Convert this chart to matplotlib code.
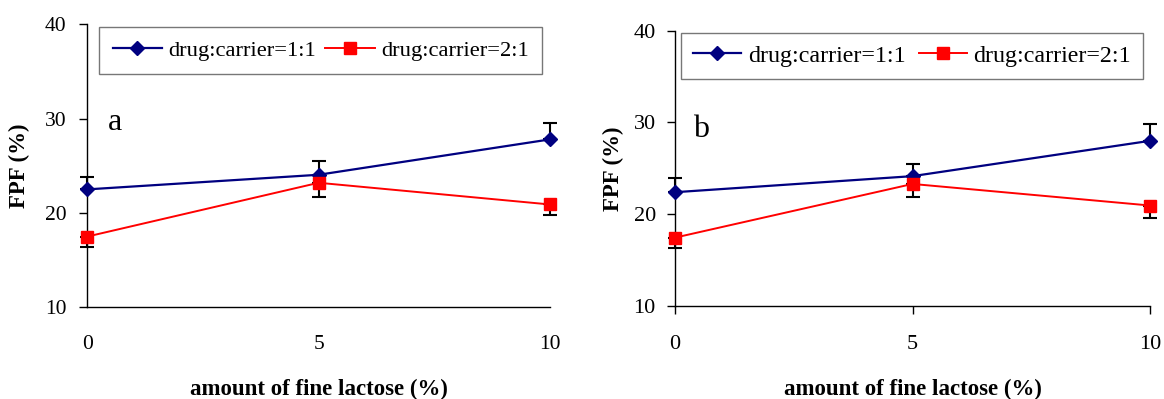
#!/usr/bin/env python3

import matplotlib
matplotlib.use("Agg")
import matplotlib.pyplot as plt


# fine lactose content (%)
lactose = [0, 5, 10]

# panel a: FPF means and error (SD)
a_11 = [22.5, 24.05, 27.8]
a_11_err = [1.3, 1.45, 1.77]
a_21 = [17.5, 23.2, 20.9]
a_21_err = [1.1, 1.5, 1.13]

# panel b
b_11 = [22.4, 24.15, 28.0]
b_11_err = [1.5, 1.3, 1.8]
b_21 = [17.45, 23.3, 20.95]
b_21_err = [1.15, 1.37, 1.38]

yticks = [10, 20, 30, 40]
xticks = [0, 5, 10]

plt.rcParams['font.family'] = ['Liberation Serif', 'DejaVu Serif']

W, H = 1164, 399


def draw_panel(fig, rect, s11, e11, s21, e21, tag, tag_pos, leg_pos, leg_fs,
               tick_fs, ypad, ylabelpad, xtick_len, xpad, hlen, colsp, bpad):
    ax = fig.add_axes(rect)
    zeros = [0, 0, 0]

    # blue bars only point up, red bars only point down
    ax.errorbar(lactose, s11, yerr=[zeros, e11], fmt='none', ecolor='black',
                elinewidth=1.5, capsize=4.7, capthick=1.5, clip_on=False, zorder=2)
    ax.errorbar(lactose, s21, yerr=[e21, zeros], fmt='none', ecolor='black',
                elinewidth=1.5, capsize=4.7, capthick=1.5, clip_on=False, zorder=2)

    l1, = ax.plot(lactose, s11, color='#000080', lw=1.6, marker='D', ms=7.5,
                  label='drug:carrier=1:1', clip_on=False, zorder=3)
    l2, = ax.plot(lactose, s21, color='#ff0000', lw=1.4, marker='s', ms=8.5,
                  label='drug:carrier=2:1', clip_on=False, zorder=3)

    ax.set_xlim(0, 10)
    ax.set_ylim(10, 40)
    ax.set_xticks(xticks)
    ax.set_yticks(yticks)
    for side in ['top', 'right']:
        ax.spines[side].set_visible(False)
    for side in ['left', 'bottom']:
        ax.spines[side].set_linewidth(1.0)

    ax.tick_params(axis='y', direction='out', length=5.8, width=1.0, pad=ypad, labelsize=tick_fs)
    ax.tick_params(axis='x', direction='out', length=xtick_len, width=1.0, pad=xpad, labelsize=tick_fs)

    ax.set_xlabel('amount of fine lactose (%)', fontsize=16.5, fontweight='bold', labelpad=18)
    ax.set_ylabel('FPF (%)', fontsize=16.5, fontweight='bold', labelpad=ylabelpad)

    ax.text(tag_pos[0], tag_pos[1], tag, transform=ax.transAxes, fontsize=23,
            ha='left', va='baseline')

    leg = ax.legend(handles=[l1, l2], ncol=2, loc='upper left',
                    bbox_to_anchor=leg_pos, bbox_transform=fig.transFigure,
                    borderaxespad=0, fontsize=leg_fs, frameon=True, fancybox=False,
                    handlelength=hlen, handletextpad=0.28, columnspacing=colsp,
                    borderpad=bpad, edgecolor='#555555')
    leg.get_frame().set_linewidth(1.0)
    return ax


def main():
    fig = plt.figure(figsize=(W / 100, H / 100), dpi=100)

    # panel a
    draw_panel(fig, [87.3 / W, 1 - 307.3 / H, (550 - 87.3) / W, (307.3 - 24.3) / H],
               a_11, a_11_err, a_21, a_21_err, 'a', (0.045, 0.626),
               (99 / W, 1 - 26.7 / H), 16.2, 15.5, 9, 11, 0, 20, 2.2, 0.4, 0.6)

    # panel b
    draw_panel(fig, [675 / W, 1 - 306 / H, (1150 - 675) / W, (306 - 30.7) / H],
               b_11, b_11_err, b_21, b_21_err, 'b', (0.038, 0.614),
               (681 / W, 1 - 32.7 / H), 17.3, 16, 8, 7, 5.8, 15, 2.0, 0.55, 0.5)

    fig.savefig('out.png', dpi=100)


if __name__ == "__main__":
    main()
